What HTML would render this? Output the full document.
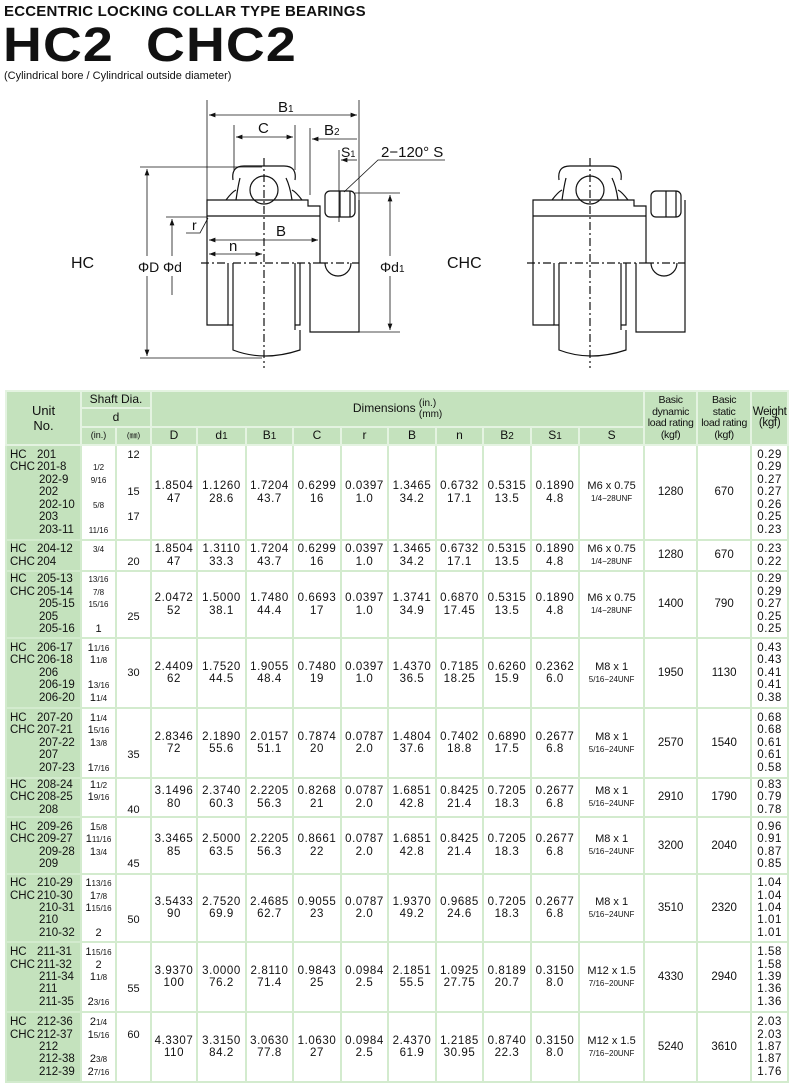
<!DOCTYPE html>
<html><head><meta charset="utf-8"><style>
body{margin:0;background:#fff;width:790px;height:1084px;position:relative;overflow:hidden;font-family:"Liberation Sans",sans-serif;color:#111}
.t1{position:absolute;left:4px;top:3px;font-weight:bold;font-size:15px;letter-spacing:0.2px}
.t2{position:absolute;left:3px;top:18px;font-weight:bold;font-size:48px;letter-spacing:1px;line-height:56px;transform:scaleX(1.12);transform-origin:left}
.t3{position:absolute;left:4px;top:70px;font-size:11px}
svg{position:absolute;left:0;top:0}
table{position:absolute;left:5px;top:390px;border-collapse:collapse;table-layout:fixed;width:782px}
td{border:2px solid #d3ebce;padding:0;text-align:center;font-size:11.5px;line-height:12.4px;vertical-align:middle;background:#fff;overflow:hidden}
.h td{background:#c4e2bd;border-color:#e4f3e1;font-size:11px;line-height:11.5px}
td.u{background:#c4e2bd;text-align:left;padding-left:3px;font-size:11.5px;vertical-align:middle;white-space:nowrap}
.u span{display:inline-block;width:27px}
.u i{font-style:normal;padding-left:29px}
td.in{font-size:11px;line-height:12.4px;white-space:nowrap}
td.in small{font-size:8px;line-height:0}
.n{letter-spacing:0.6px}
.s{font-size:11px;line-height:12px}
.s small{font-size:8px}
td.b{font-size:10.5px;letter-spacing:-0.3px;line-height:11.5px}
</style></head><body>
<div class="t1">ECCENTRIC LOCKING COLLAR TYPE BEARINGS</div>
<div class="t2">HC2&nbsp;&nbsp;CHC2</div>
<div class="t3">(Cylindrical bore / Cylindrical outside diameter)</div>
<svg width="790" height="385" viewBox="0 0 790 385" fill="none" stroke="#111" stroke-width="1.2" font-family="Liberation Sans" >
<defs>
<marker id="a" markerWidth="8" markerHeight="6" refX="8" refY="3" orient="auto-start-reverse"><path d="M0,0 L8,3 L0,6z" fill="#111" stroke="none"/></marker>
<g id="bear">
<polyline points="228,325 207,325 207,200 308,200 308,206 320,206 320,263"/>
<line x1="207" y1="216" x2="320" y2="216"/>
<polyline points="310,263 310,332 359,332 359,200"/>
<line x1="320" y1="263" x2="359" y2="263" stroke-dasharray="8,3,2,3"/>
<rect x="325" y="191" width="30" height="26" rx="5"/>
<line x1="340" y1="191" x2="340" y2="217"/><line x1="350" y1="191" x2="350" y2="217"/>
<path d="M325,263 A13,13 0 0 0 351,263"/>
<polyline points="228,263 228,325 233,325"/>
<line x1="233" y1="263" x2="233" y2="330"/>
<line x1="295" y1="263" x2="295" y2="330"/>
<polyline points="295,325 300,325 300,263"/>
<path d="M233,330 V350 Q264,362 300,350 V330"/>
<path d="M233,180 Q231,166 244,166 H284 Q297,166 295,180"/>
<circle cx="264" cy="190" r="14"/>
<path d="M236,200 Q238,186 240,178 M286,178 Q290,186 292,200 M226,200 Q232,192 236,190 M302,200 Q296,192 292,190"/>
<line x1="201" y1="263" x2="228" y2="263" stroke-dasharray="8,3,2,3"/>
<line x1="233" y1="263" x2="320" y2="263" stroke-dasharray="8,3,2,3"/>
<line x1="264" y1="158" x2="264" y2="368" stroke-dasharray="8,3,2,3"/>
</g>
</defs>
<use href="#bear"/>
<use href="#bear" transform="translate(326,0)"/>
<line x1="207" y1="100" x2="207" y2="200" stroke-width="0.8"/>
<line x1="359" y1="100" x2="359" y2="200" stroke-width="0.8"/>
<line x1="209" y1="115" x2="357" y2="115" stroke-width="0.8" marker-start="url(#a)" marker-end="url(#a)"/>
<line x1="234" y1="125" x2="234" y2="170" stroke-width="0.8"/>
<line x1="295" y1="125" x2="295" y2="170" stroke-width="0.8"/>
<line x1="236" y1="137" x2="293" y2="137" stroke-width="0.8" marker-start="url(#a)" marker-end="url(#a)"/>
<line x1="310" y1="128" x2="310" y2="195" stroke-width="0.8"/>
<line x1="312" y1="139" x2="357" y2="139" stroke-width="0.8" marker-start="url(#a)"/>
<line x1="339" y1="150" x2="339" y2="222" stroke-width="0.8"/>
<line x1="341" y1="160" x2="357" y2="160" stroke-width="0.8" marker-start="url(#a)"/>
<polyline points="344,192 378,160 445,160" stroke-width="0.8"/>
<line x1="140" y1="167" x2="262" y2="167" stroke-width="0.8"/>
<line x1="140" y1="358" x2="262" y2="358" stroke-width="0.8"/>
<line x1="147" y1="169" x2="147" y2="256" stroke-width="0.8" marker-start="url(#a)"/>
<line x1="147" y1="276" x2="147" y2="356" stroke-width="0.8" marker-end="url(#a)"/>
<line x1="166" y1="217" x2="207" y2="217" stroke-width="0.8"/>
<line x1="172" y1="219" x2="172" y2="256" stroke-width="0.8" marker-start="url(#a)"/>
<line x1="172" y1="276" x2="172" y2="295" stroke-width="0.8"/>
<line x1="209" y1="240" x2="318" y2="240" stroke-width="0.8" marker-start="url(#a)" marker-end="url(#a)"/>
<line x1="209" y1="254" x2="262" y2="254" stroke-width="0.8" marker-start="url(#a)" marker-end="url(#a)"/>
<polyline points="186,233 200,233 208,218" stroke-width="0.8"/>
<line x1="355" y1="193" x2="400" y2="193" stroke-width="0.8"/>
<line x1="359" y1="332" x2="400" y2="332" stroke-width="0.8"/>
<line x1="390" y1="195" x2="390" y2="256" stroke-width="0.8" marker-start="url(#a)"/>
<line x1="390" y1="276" x2="390" y2="330" stroke-width="0.8" marker-end="url(#a)"/>
<g fill="#111" stroke="none" font-size="15">
<text x="278" y="112">B<tspan font-size="10">1</tspan></text>
<text x="258" y="133">C</text>
<text x="324" y="135">B<tspan font-size="10">2</tspan></text>
<text x="341" y="157" font-size="14">S<tspan font-size="9">1</tspan></text>
<text x="381" y="157">2−120° S</text>
<text x="192" y="230" font-size="14">r</text>
<text x="276" y="236">B</text>
<text x="229" y="251">n</text>
<text x="138" y="272" font-size="14">ΦD</text>
<text x="163" y="272" font-size="14">Φd</text>
<text x="380" y="272" font-size="14">Φd<tspan font-size="10">1</tspan></text>
<text x="71" y="268" font-size="16">HC</text>
<text x="447" y="268" font-size="16">CHC</text>
</g>
</svg>
<table>
<colgroup><col style="width:75px"><col style="width:35px"><col style="width:35px"><col style="width:46px"><col style="width:49px"><col style="width:47px"><col style="width:48px"><col style="width:47px"><col style="width:48px"><col style="width:47px"><col style="width:48px"><col style="width:48px"><col style="width:65px"><col style="width:53px"><col style="width:54px"><col style="width:37px"></colgroup>
<tr class="h" style="height:17px"><td rowspan="3" style="font-size:13px;line-height:15px">Unit<br>No.</td><td colspan="2" style="font-size:12px">Shaft Dia.</td><td colspan="10" rowspan="2" style="font-size:12px">Dimensions <span style="display:inline-block;vertical-align:middle;font-size:10px;line-height:11px;text-align:left">(in.)<br>(mm)</span></td><td rowspan="3" class="b">Basic<br>dynamic<br>load rating<br>(kgf)</td><td rowspan="3" class="b">Basic<br>static<br>load rating<br>(kgf)</td><td rowspan="3" style="font-size:11.5px;letter-spacing:-0.3px">Weight<br>(kgf)</td></tr>
<tr class="h" style="height:19px"><td colspan="2" style="font-size:12px">d</td></tr>
<tr class="h" style="height:18px"><td style="font-size:9px">(in.)</td><td style="font-size:8px">(㎜)</td><td style="font-size:12px">D</td><td style="font-size:12px">d<small>1</small></td><td style="font-size:12px">B<small>1</small></td><td style="font-size:12px">C</td><td style="font-size:12px">r</td><td style="font-size:12px">B</td><td style="font-size:12px">n</td><td style="font-size:12px">B<small>2</small></td><td style="font-size:12px">S<small>1</small></td><td style="font-size:12px">S</td></tr>

<tr style="height:95px"><td class="u"><span>HC</span>201<br><span>CHC</span>201-8<br><i>202-9</i><br><i>202</i><br><i>202-10</i><br><i>203</i><br><i>203-11</i></td><td class="in">&nbsp;<br><small>1/2</small><br><small>9/16</small><br>&nbsp;<br><small>5/8</small><br>&nbsp;<br><small>11/16</small></td><td class="in">12<br>&nbsp;<br>&nbsp;<br>15<br>&nbsp;<br>17<br>&nbsp;</td><td class="n">1.8504<br>47</td><td class="n">1.1260<br>28.6</td><td class="n">1.7204<br>43.7</td><td class="n">0.6299<br>16</td><td class="n">0.0397<br>1.0</td><td class="n">1.3465<br>34.2</td><td class="n">0.6732<br>17.1</td><td class="n">0.5315<br>13.5</td><td class="n">0.1890<br>4.8</td><td class="s">M6 x 0.75<br><small>1/4−28UNF</small></td><td>1280</td><td>670</td><td class="n">0.29<br>0.29<br>0.27<br>0.27<br>0.26<br>0.25<br>0.23</td></tr>

<tr style="height:31px"><td class="u"><span>HC</span>204-12<br><span>CHC</span>204</td><td class="in"><small>3/4</small><br>&nbsp;</td><td class="in">&nbsp;<br>20</td><td class="n">1.8504<br>47</td><td class="n">1.3110<br>33.3</td><td class="n">1.7204<br>43.7</td><td class="n">0.6299<br>16</td><td class="n">0.0397<br>1.0</td><td class="n">1.3465<br>34.2</td><td class="n">0.6732<br>17.1</td><td class="n">0.5315<br>13.5</td><td class="n">0.1890<br>4.8</td><td class="s">M6 x 0.75<br><small>1/4−28UNF</small></td><td>1280</td><td>670</td><td class="n">0.23<br>0.22</td></tr>

<tr style="height:67px"><td class="u"><span>HC</span>205-13<br><span>CHC</span>205-14<br><i>205-15</i><br><i>205</i><br><i>205-16</i></td><td class="in"><small>13/16</small><br><small>7/8</small><br><small>15/16</small><br>&nbsp;<br>1</td><td class="in">&nbsp;<br>&nbsp;<br>&nbsp;<br>25<br>&nbsp;</td><td class="n">2.0472<br>52</td><td class="n">1.5000<br>38.1</td><td class="n">1.7480<br>44.4</td><td class="n">0.6693<br>17</td><td class="n">0.0397<br>1.0</td><td class="n">1.3741<br>34.9</td><td class="n">0.6870<br>17.45</td><td class="n">0.5315<br>13.5</td><td class="n">0.1890<br>4.8</td><td class="s">M6 x 0.75<br><small>1/4−28UNF</small></td><td>1400</td><td>790</td><td class="n">0.29<br>0.29<br>0.27<br>0.25<br>0.25</td></tr>

<tr style="height:70px"><td class="u"><span>HC</span>206-17<br><span>CHC</span>206-18<br><i>206</i><br><i>206-19</i><br><i>206-20</i></td><td class="in">1<small>1/16</small><br>1<small>1/8</small><br>&nbsp;<br>1<small>3/16</small><br>1<small>1/4</small></td><td class="in">30</td><td class="n">2.4409<br>62</td><td class="n">1.7520<br>44.5</td><td class="n">1.9055<br>48.4</td><td class="n">0.7480<br>19</td><td class="n">0.0397<br>1.0</td><td class="n">1.4370<br>36.5</td><td class="n">0.7185<br>18.25</td><td class="n">0.6260<br>15.9</td><td class="n">0.2362<br>6.0</td><td class="s">M8 x 1<br><small>5/16−24UNF</small></td><td>1950</td><td>1130</td><td class="n">0.43<br>0.43<br>0.41<br>0.41<br>0.38</td></tr>

<tr style="height:70px"><td class="u"><span>HC</span>207-20<br><span>CHC</span>207-21<br><i>207-22</i><br><i>207</i><br><i>207-23</i></td><td class="in">1<small>1/4</small><br>1<small>5/16</small><br>1<small>3/8</small><br>&nbsp;<br>1<small>7/16</small></td><td class="in">&nbsp;<br>&nbsp;<br>&nbsp;<br>35<br>&nbsp;</td><td class="n">2.8346<br>72</td><td class="n">2.1890<br>55.6</td><td class="n">2.0157<br>51.1</td><td class="n">0.7874<br>20</td><td class="n">0.0787<br>2.0</td><td class="n">1.4804<br>37.6</td><td class="n">0.7402<br>18.8</td><td class="n">0.6890<br>17.5</td><td class="n">0.2677<br>6.8</td><td class="s">M8 x 1<br><small>5/16−24UNF</small></td><td>2570</td><td>1540</td><td class="n">0.68<br>0.68<br>0.61<br>0.61<br>0.58</td></tr>

<tr style="height:37px"><td class="u"><span>HC</span>208-24<br><span>CHC</span>208-25<br><i>208</i></td><td class="in">1<small>1/2</small><br>1<small>9/16</small><br>&nbsp;</td><td class="in">&nbsp;<br>&nbsp;<br>40</td><td class="n">3.1496<br>80</td><td class="n">2.3740<br>60.3</td><td class="n">2.2205<br>56.3</td><td class="n">0.8268<br>21</td><td class="n">0.0787<br>2.0</td><td class="n">1.6851<br>42.8</td><td class="n">0.8425<br>21.4</td><td class="n">0.7205<br>18.3</td><td class="n">0.2677<br>6.8</td><td class="s">M8 x 1<br><small>5/16−24UNF</small></td><td>2910</td><td>1790</td><td class="n">0.83<br>0.79<br>0.78</td></tr>

<tr style="height:57px"><td class="u"><span>HC</span>209-26<br><span>CHC</span>209-27<br><i>209-28</i><br><i>209</i></td><td class="in">1<small>5/8</small><br>1<small>11/16</small><br>1<small>3/4</small><br>&nbsp;</td><td class="in">&nbsp;<br>&nbsp;<br>&nbsp;<br>45</td><td class="n">3.3465<br>85</td><td class="n">2.5000<br>63.5</td><td class="n">2.2205<br>56.3</td><td class="n">0.8661<br>22</td><td class="n">0.0787<br>2.0</td><td class="n">1.6851<br>42.8</td><td class="n">0.8425<br>21.4</td><td class="n">0.7205<br>18.3</td><td class="n">0.2677<br>6.8</td><td class="s">M8 x 1<br><small>5/16−24UNF</small></td><td>3200</td><td>2040</td><td class="n">0.96<br>0.91<br>0.87<br>0.85</td></tr>

<tr style="height:68px"><td class="u"><span>HC</span>210-29<br><span>CHC</span>210-30<br><i>210-31</i><br><i>210</i><br><i>210-32</i></td><td class="in">1<small>13/16</small><br>1<small>7/8</small><br>1<small>15/16</small><br>&nbsp;<br>2</td><td class="in">&nbsp;<br>&nbsp;<br>&nbsp;<br>50<br>&nbsp;</td><td class="n">3.5433<br>90</td><td class="n">2.7520<br>69.9</td><td class="n">2.4685<br>62.7</td><td class="n">0.9055<br>23</td><td class="n">0.0787<br>2.0</td><td class="n">1.9370<br>49.2</td><td class="n">0.9685<br>24.6</td><td class="n">0.7205<br>18.3</td><td class="n">0.2677<br>6.8</td><td class="s">M8 x 1<br><small>5/16−24UNF</small></td><td>3510</td><td>2320</td><td class="n">1.04<br>1.04<br>1.04<br>1.01<br>1.01</td></tr>

<tr style="height:70px"><td class="u"><span>HC</span>211-31<br><span>CHC</span>211-32<br><i>211-34</i><br><i>211</i><br><i>211-35</i></td><td class="in">1<small>15/16</small><br>2<br>1<small>1/8</small><br>&nbsp;<br>2<small>3/16</small></td><td class="in">&nbsp;<br>&nbsp;<br>&nbsp;<br>55<br>&nbsp;</td><td class="n">3.9370<br>100</td><td class="n">3.0000<br>76.2</td><td class="n">2.8110<br>71.4</td><td class="n">0.9843<br>25</td><td class="n">0.0984<br>2.5</td><td class="n">2.1851<br>55.5</td><td class="n">1.0925<br>27.75</td><td class="n">0.8189<br>20.7</td><td class="n">0.3150<br>8.0</td><td class="s">M12 x 1.5<br><small>7/16−20UNF</small></td><td>4330</td><td>2940</td><td class="n">1.58<br>1.58<br>1.39<br>1.36<br>1.36</td></tr>

<tr style="height:70px"><td class="u"><span>HC</span>212-36<br><span>CHC</span>212-37<br><i>212</i><br><i>212-38</i><br><i>212-39</i></td><td class="in">2<small>1/4</small><br>1<small>5/16</small><br>&nbsp;<br>2<small>3/8</small><br>2<small>7/16</small></td><td class="in">&nbsp;<br>60<br>&nbsp;<br>&nbsp;<br>&nbsp;</td><td class="n">4.3307<br>110</td><td class="n">3.3150<br>84.2</td><td class="n">3.0630<br>77.8</td><td class="n">1.0630<br>27</td><td class="n">0.0984<br>2.5</td><td class="n">2.4370<br>61.9</td><td class="n">1.2185<br>30.95</td><td class="n">0.8740<br>22.3</td><td class="n">0.3150<br>8.0</td><td class="s">M12 x 1.5<br><small>7/16−20UNF</small></td><td>5240</td><td>3610</td><td class="n">2.03<br>2.03<br>1.87<br>1.87<br>1.76</td></tr>
</table>
</body></html>
